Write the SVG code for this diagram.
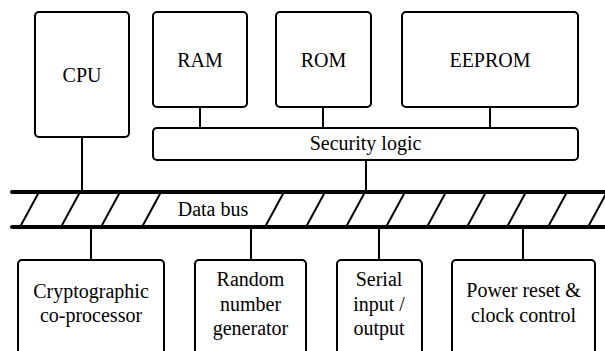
<svg xmlns="http://www.w3.org/2000/svg" width="605" height="351" viewBox="0 0 605 351">
  <style>
    .box { fill: #fff; stroke: #000; stroke-width: 2; }
    .wire { stroke: #000; stroke-width: 2; fill: none; }
    .rail { stroke: #000; stroke-width: 4; stroke-linecap: round; fill: none; }
    .hatch { stroke: #000; stroke-width: 2; fill: none; }
    .lbl { font-family: 'Liberation Serif', 'Times New Roman', serif; font-size: 20px; fill: #000; text-anchor: middle; }
  </style>
  <rect width="605" height="351" fill="#fff"/>

  <!-- connectors -->
  <g id="connectors" class="wire">
    <!-- memories to security logic -->
    <line x1="200" y1="107" x2="200" y2="128"/>
    <line x1="323" y1="107" x2="323" y2="128"/>
    <line x1="490" y1="107" x2="490" y2="128"/>
    <!-- CPU and security logic to bus -->
    <line x1="82" y1="137" x2="82" y2="192"/>
    <line x1="366" y1="160" x2="366" y2="192"/>
    <!-- bus to peripherals -->
    <line x1="91" y1="227" x2="91" y2="260"/>
    <line x1="251" y1="227" x2="251" y2="260"/>
    <line x1="379" y1="227" x2="379" y2="260"/>
    <line x1="523" y1="227" x2="523" y2="260"/>
  </g>

  <!-- hatched data bus -->
  <g id="data-bus">
    <g class="hatch">
      <line x1="20" y1="227" x2="39" y2="192"/>
      <line x1="61" y1="227" x2="80" y2="192"/>
      <line x1="101" y1="227" x2="120" y2="192"/>
      <line x1="142" y1="227" x2="161" y2="192"/>
      <line x1="265" y1="227" x2="284" y2="192"/>
      <line x1="306" y1="227" x2="325" y2="192"/>
      <line x1="346" y1="227" x2="365" y2="192"/>
      <line x1="386" y1="227" x2="405" y2="192"/>
      <line x1="427" y1="227" x2="446" y2="192"/>
      <line x1="467" y1="227" x2="486" y2="192"/>
      <line x1="507" y1="227" x2="526" y2="192"/>
      <line x1="548" y1="227" x2="567" y2="192"/>
      <line x1="588" y1="227" x2="607" y2="192"/>
    </g>
    <line class="rail" x1="12" y1="192" x2="610" y2="192"/>
    <line class="rail" x1="12" y1="227" x2="610" y2="227"/>
    <text class="lbl" x="213" y="216">Data bus</text>
  </g>

  <g id="cpu">
    <rect class="box" x="35" y="12" width="94" height="125" rx="4"/>
    <text class="lbl" x="82" y="82">CPU</text>
  </g>
  <g id="ram">
    <rect class="box" x="153" y="12" width="94" height="95" rx="4"/>
    <text class="lbl" x="200" y="67">RAM</text>
  </g>
  <g id="rom">
    <rect class="box" x="276" y="12" width="95" height="95" rx="4"/>
    <text class="lbl" x="323.5" y="67">ROM</text>
  </g>
  <g id="eeprom">
    <rect class="box" x="402" y="12" width="176" height="95" rx="4"/>
    <text class="lbl" x="490" y="67">EEPROM</text>
  </g>
  <g id="security-logic">
    <rect class="box" x="153" y="128" width="425" height="32" rx="4"/>
    <text class="lbl" x="365.5" y="150">Security logic</text>
  </g>

  <g id="crypto">
    <rect class="box" x="18" y="260" width="146" height="110" rx="4"/>
    <text class="lbl" x="91" y="298">Cryptographic</text>
    <text class="lbl" x="91" y="322">co-processor</text>
  </g>
  <g id="rng">
    <rect class="box" x="195" y="260" width="111" height="110" rx="4"/>
    <text class="lbl" x="250.5" y="286">Random</text>
    <text class="lbl" x="250.5" y="310.5">number</text>
    <text class="lbl" x="250.5" y="335">generator</text>
  </g>
  <g id="serial-io">
    <rect class="box" x="337" y="260" width="85" height="110" rx="4"/>
    <text class="lbl" x="379" y="286">Serial</text>
    <text class="lbl" x="379" y="310.5">input /</text>
    <text class="lbl" x="379" y="335">output</text>
  </g>
  <g id="power-clock">
    <rect class="box" x="452" y="260" width="143" height="110" rx="4"/>
    <text class="lbl" x="523.5" y="297">Power reset &amp;</text>
    <text class="lbl" x="523.5" y="322">clock control</text>
  </g>
</svg>
